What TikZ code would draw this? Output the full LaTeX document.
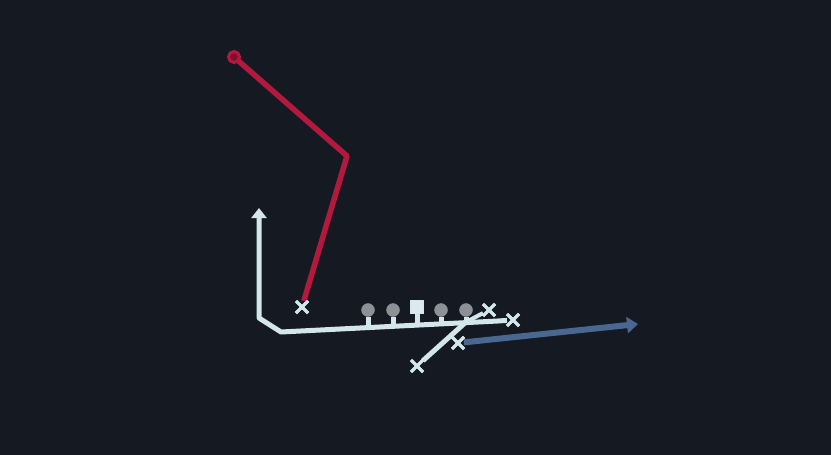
\documentclass[tikz,border=0pt]{standalone}
\usepackage{tikz}
\usetikzlibrary{shapes.misc,arrows.meta}
\definecolor{field}{HTML}{151A22}
\definecolor{rush}{HTML}{B3193D}
\definecolor{route}{HTML}{D3E6EC}
\definecolor{lineman}{HTML}{8C9196}
\definecolor{motion}{HTML}{4A6792}

\begin{document}
\begin{tikzpicture}[x=1pt, y=-1pt,
	player/.style={draw=route, cross out, line width=3pt, minimum size=9pt, inner sep=0pt},
	guard/.style={draw=lineman, fill=lineman, circle, minimum size=13pt, inner sep=0pt},
	centre/.style={draw=route, fill=route!85!white, rectangle, minimum size=13pt, inner sep=0pt}]
				\fill[field] (0,0) rectangle (831,455);
				\coordinate (START) at (234, 57);
				\coordinate (BEND) at (347, 156);
				\coordinate (TOP) at (259, 208);
				\coordinate (CORNER) at (259, 318);
				\coordinate (FOOT) at (281, 332);
				\coordinate (END) at (498, 321);
				\coordinate (TIP) at (466, 322);
				\coordinate (ARROW) at (638, 324);
				\node[player] (R)at(302, 307) {};
				\node[player] (S1)at(489, 310) {};
				\node[player] (S2)at(513, 320) {};
				\node[player] (B1)at(458, 343) {};
				\node[player] (B2)at(417, 366) {};
				\node[guard] (LT)at(368, 310) {};
				\node[guard] (LG)at(393, 310) {};
				\node[centre] (C)at(417, 307) {};
				\node[guard] (RG)at(441, 310) {};
				\node[guard] (RT)at(466, 310) {};
				\coordinate (LTb) at (368, 328);
				\coordinate (LGb) at (393, 327);
				\coordinate (Cb) at (417, 326);
				\coordinate (RGb) at (441, 325);
				\coordinate (RTb) at (466, 324);
				\draw[rush, line width=5.5pt, line join=round] (R) -- (BEND) -- (START);
				\draw[rush, line width=3pt, fill=rush!70!black] (START) circle(5.5);
				\draw[motion, line width=6pt, -{Triangle[width=16pt, length=11pt]}] (B1) -- (ARROW);
				\draw[route, line width=5pt] (LT) -- (LTb);
				\draw[route, line width=5pt] (LG) -- (LGb);
				\draw[route, line width=5pt] (C) -- (Cb);
				\draw[route, line width=5pt] (RG) -- (RGb);
				\draw[route, line width=5pt] (RT) -- (RTb);
				\draw[route, line width=5pt, line join=round, -{Triangle[width=15pt, length=10pt]}] (END) -- (FOOT) -- (CORNER) -- (TOP);
				\draw[route, line width=5pt] (END) -- (S2);
				\draw[route, line width=5pt] (B2) -- (TIP);
				\draw[route, line width=4pt] (TIP) -- (S1);
				\node[player] at (R) {};
				\node[player] at (S1) {};
				\node[player] at (S2) {};
				\node[player] at (B1) {};
				\node[player] at (B2) {};
			\end{tikzpicture}
\end{document}
